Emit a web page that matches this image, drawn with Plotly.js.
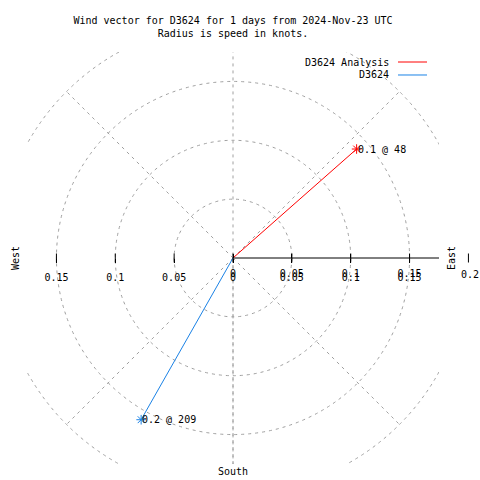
<!DOCTYPE html>
<html>
<head>
<meta charset="utf-8">
<script src="https://cdn.plot.ly/plotly-3.0.1.min.js"></script>
<style>html,body{margin:0;padding:0;background:#fff;}#chart{width:480px;height:480px;}</style>
</head>
<body>
<div id="chart"></div>
<script>
// ---- data ----
const seriesNames = ["D3624 Analysis", "D3624"];
const speeds = [0.14, 0.158];          // knots
const directions = [48.6, 209.6];      // degrees (compass, clockwise from north)
const seriesColors = ["#ff0000", "#1a82e6"];
const ringRadii = [0.05, 0.1, 0.15, 0.2];
const spokeAngles = [45, 135, 180, 225, 315];   // dashed spokes (compass degrees)
const tickVals = [-0.15, -0.1, -0.05, 0, 0.05, 0.1, 0.15];
const tickText = ["0.15", "0.1", "0.05", "0", "0.05", "0.1", "0.15"];
const tickVals2 = [0, 0.05, 0.1, 0.15];
const tickText2 = ["0", "0.05", "0.1", "0.15"];
const titleText = "Wind vector for D3624 for 1 days from 2024-Nov-23 UTC<br>Radius is speed in knots.";

const FONT = "DejaVu Sans Mono";
const GRID = "#a0a0a0";
const R = 0.175;
const PLOT = 412; // plot size in px
const rad = d => d * Math.PI / 180;
const toPaperX = v => (v + R) / (2 * R);

const traces = [];
const annotations = [];
const shapes = [];

// grid rings
ringRadii.forEach(r => shapes.push({type: "circle", xref: "x", yref: "y", x0: -r, y0: -r, x1: r, y1: r,
  line: {color: GRID, width: 1, dash: "3px,4px"}, layer: "below"}));
// spokes
const outer = ringRadii[ringRadii.length - 1];
spokeAngles.forEach(a => shapes.push({type: "line", xref: "x", yref: "y", x0: 0, y0: 0,
  x1: outer * Math.sin(rad(a)), y1: outer * Math.cos(rad(a)),
  line: {color: GRID, width: 1, dash: "3px,4px"}, layer: "below"}));
// north-south line through whole plot
shapes.push({type: "line", xref: "x", yref: "y", x0: 0, y0: -outer, x1: 0, y1: outer,
  line: {color: GRID, width: 1, dash: "3px,4px"}, layer: "below"});
// east axis solid
shapes.push({type: "line", xref: "x", yref: "y", x0: 0, y0: 0, x1: outer, y1: 0,
  line: {color: "#000", width: 1}, layer: "below"});
// tick marks crossing the axis line
const th = 4.5 / PLOT;
tickVals.concat([outer]).forEach(v => shapes.push({type: "line", xref: "paper", yref: "paper",
  x0: toPaperX(v), x1: toPaperX(v), y0: 0.5 - th, y1: 0.5 + th, line: {color: "#000", width: 1}}));

// vectors
speeds.forEach((s, i) => {
  const x = s * Math.sin(rad(directions[i]));
  const y = s * Math.cos(rad(directions[i]));
  traces.push({type: "scatter", mode: "lines", x: [0, x], y: [0, y],
    line: {color: seriesColors[i], width: 1}, hoverinfo: "skip", showlegend: false});
  traces.push({type: "scatter", mode: "markers", x: [x], y: [y],
    marker: {symbol: "asterisk-open", size: 8, color: seriesColors[i], line: {color: seriesColors[i], width: 1}},
    hoverinfo: "skip", showlegend: false, cliponaxis: false});
  annotations.push({xref: "x", yref: "y", x: x, y: y, xanchor: "left", yanchor: "middle", showarrow: false,
    text: s.toFixed(1) + " @ " + Math.floor(directions[i]), font: {family: FONT, size: 10, color: "#000"}, xshift: -1});
  // manual legend (text left of sample line)
  const ly = [0.9757, 0.9442][i];
  annotations.push({xref: "paper", yref: "paper", x: 0.8835, y: ly, xanchor: "right", yanchor: "middle",
    showarrow: false, text: seriesNames[i], font: {family: FONT, size: 10, color: "#000"}});
  shapes.push({type: "line", xref: "paper", yref: "paper", x0: 0.9005, x1: 0.9709, y0: ly, y1: ly,
    line: {color: seriesColors[i], width: 1}});
});

// 0.2 label outside the border (right edge of the page)
annotations.push({xref: "paper", yref: "paper", x: (480 - 27) / PLOT, xanchor: "right", y: 0.5, yanchor: "middle",
  yshift: -16, showarrow: false, borderpad: 0, text: String(outer), font: {family: FONT, size: 10, color: "#000"}});

// dummy trace for overlay axis
traces.push({type: "scatter", mode: "markers", x: [], y: [], xaxis: "x2", showlegend: false, hoverinfo: "skip"});

// compass labels
annotations.push({xref: "paper", yref: "paper", x: 0.5, y: -0.017, showarrow: false, text: "South",
  xanchor: "center", yanchor: "middle", font: {family: FONT, size: 10, color: "#000"}});
annotations.push({xref: "paper", yref: "paper", x: -0.029, y: 0.5, showarrow: false, text: "West", textangle: -90,
  xanchor: "center", yanchor: "middle", font: {family: FONT, size: 10, color: "#000"}});
annotations.push({xref: "paper", yref: "paper", x: 1.029, y: 0.5, showarrow: false, text: "East", textangle: -90,
  xanchor: "center", yanchor: "middle", font: {family: FONT, size: 10, color: "#000"}});

const axFont = {family: FONT, size: 10, color: "#000"};
const layout = {
  width: 480, height: 480,
  margin: {l: 27, r: 41, t: 52, b: 16},
  paper_bgcolor: "#fff", plot_bgcolor: "#fff",
  showlegend: false, hovermode: false,
  font: {family: FONT, size: 10, color: "#000"},
  title: {text: titleText, font: {family: FONT, size: 10, color: "#000"}, x: 0.5, xref: "paper",
    y: 0.95, yref: "container", yanchor: "top"},
  xaxis: {range: [-R, R], anchor: "free", position: 0.5, tickvals: tickVals, ticktext: tickText,
    ticks: "outside", ticklen: 4, tickcolor: "#000", tickwidth: 1, ticklabelstandoff: 6, showline: false, showgrid: false,
    zeroline: false, tickfont: axFont, fixedrange: true},
  xaxis2: {range: [-R, R], overlaying: "x", anchor: "free", position: 0.5, side: "bottom",
    tickvals: tickVals2, ticktext: tickText2, ticks: "inside", ticklen: 4, tickcolor: "#000", tickwidth: 1,
    ticklabelstandoff: 8, showline: false, showgrid: false, zeroline: false, tickfont: axFont, fixedrange: true},
  yaxis: {range: [-R, R], visible: false, showgrid: false, zeroline: false, fixedrange: true},
  shapes: shapes,
  annotations: annotations
};

Plotly.newPlot("chart", traces, layout, {displayModeBar: false, staticPlot: true});
</script>
</body>
</html>
